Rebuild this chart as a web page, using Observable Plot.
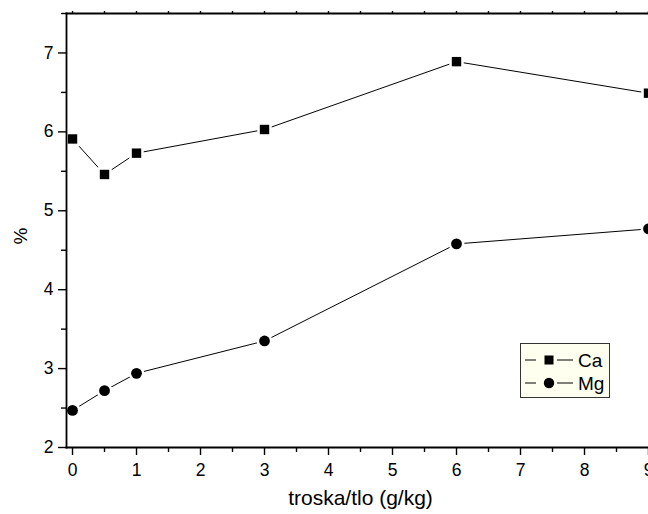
<!DOCTYPE html>
<html>
<head>
<meta charset="utf-8">
<script src="https://cdn.jsdelivr.net/npm/d3@7"></script>
<script src="https://cdn.jsdelivr.net/npm/@observablehq/plot@0.6"></script>
<style>
  html, body { margin: 0; padding: 0; background: #fff; }
  #wrap { position: relative; width: 648px; height: 514px; overflow: hidden; }
  #legend { position: absolute; left: 520px; top: 343px; }
  svg text { font-family: "Liberation Sans", Arial, sans-serif; }
</style>
</head>
<body>
<div id="wrap"></div>
<script>
const xValues = [0, 0.5, 1, 3, 6, 9];
const caValues = [5.91, 5.46, 5.73, 6.03, 6.89, 6.49];
const mgValues = [2.47, 2.72, 2.94, 3.35, 4.58, 4.77];
const seriesNames = ["Ca", "Mg"];
const xMajorTicks = [0, 1, 2, 3, 4, 5, 6, 7, 8, 9];
const xMinorTicks = [0.5, 1.5, 2.5, 3.5, 4.5, 5.5, 6.5, 7.5, 8.5];
const xTopTicks = [0, 0.5, 1, 1.5, 2, 2.5, 3, 3.5, 4, 4.5, 5, 5.5, 6, 6.5, 7, 7.5, 8, 8.5, 9];
const yMajorTicks = [2, 3, 4, 5, 6, 7];
const yMinorTicks = [2.5, 3.5, 4.5, 5.5, 6.5, 7.5];
const xLabel = "troska/tlo (g/kg)";
const yLabel = "%";

const ca = xValues.map((x, i) => ({x, y: caValues[i], s: "Ca"}));
const mg = xValues.map((x, i) => ({x, y: mgValues[i], s: "Mg"}));

const font = "Liberation Sans, Arial, sans-serif";

const chart = Plot.plot({
  width: 648,
  height: 514,
  marginLeft: 66,
  marginRight: 0,
  marginTop: 13,
  marginBottom: 67,
  style: {fontFamily: font, fontSize: "17px", color: "#000", background: "#fff", overflow: "hidden"},
  x: {domain: [-0.094, 9]},
  y: {domain: [2, 7.5]},
  marks: [
    Plot.line(ca, {x: "x", y: "y", stroke: "#000", strokeWidth: 1}),
    Plot.line(mg, {x: "x", y: "y", stroke: "#000", strokeWidth: 1}),
    Plot.dot(ca, {x: "x", y: "y", symbol: "square", r: 5.3, fill: "#000", stroke: "#fff", strokeWidth: 5, paintOrder: "stroke"}),
    Plot.dot(mg, {x: "x", y: "y", symbol: "circle", r: 5.4, fill: "#000", stroke: "#fff", strokeWidth: 5, paintOrder: "stroke"}),
    Plot.frame({anchor: "left", stroke: "#000", strokeWidth: 1.8}),
    Plot.frame({anchor: "bottom", stroke: "#000", strokeWidth: 1.8}),
    Plot.frame({anchor: "top", stroke: "#000", strokeWidth: 1.8}),
    Plot.axisX({ticks: xMajorTicks, tickSize: 8, tickPadding: 8, fontSize: 17.5, tickFormat: d3.format("d"), label: null, strokeWidth: 1.4}),
    Plot.axisX({ticks: xMinorTicks, tickSize: 5, tickFormat: () => "", label: null, strokeWidth: 1.4}),
    Plot.axisX({anchor: "top", ticks: xTopTicks, tickSize: 3, tickFormat: () => "", label: null, strokeWidth: 1.4}),
    Plot.axisY({ticks: yMajorTicks, tickSize: 8, tickPadding: 5, fontSize: 17.5, tickFormat: d3.format("d"), label: null, strokeWidth: 1.4}),
    Plot.axisY({ticks: yMinorTicks, tickSize: 5, tickFormat: () => "", label: null, strokeWidth: 1.4}),
    Plot.text([xLabel], {frameAnchor: "bottom", dx: 3, dy: 57, text: d => d, fontSize: 21, fill: "#000"}),
    Plot.text([yLabel], {frameAnchor: "left", dx: -46, dy: 14, rotate: -90, text: d => d, fontSize: 19, fill: "#000"})
  ]
});
const wrap = document.getElementById("wrap");
wrap.appendChild(chart);

// legend
const lw = 89, lh = 54;
const leg = d3.create("svg").attr("id", "legend").attr("width", lw + 2).attr("height", lh + 2);
leg.append("rect").attr("x", 0.5).attr("y", 0.5).attr("width", lw).attr("height", lh)
  .attr("fill", "#FFFFF0").attr("stroke", "#333").attr("stroke-width", 1);
seriesNames.forEach((name, i) => {
  const cy = 17 + i * 23;
  const g = leg.append("g");
  g.append("line").attr("x1", 5).attr("x2", 16).attr("y1", cy).attr("y2", cy).attr("stroke", "#000");
  g.append("line").attr("x1", 37).attr("x2", 53).attr("y1", cy).attr("y2", cy).attr("stroke", "#000");
  if (i === 0) {
    g.append("rect").attr("x", 24.5).attr("y", cy - 4.5).attr("width", 9).attr("height", 9).attr("fill", "#000");
  } else {
    g.append("circle").attr("cx", 29).attr("cy", cy).attr("r", 5.2).attr("fill", "#000");
  }
  g.append("text").attr("x", 58).attr("y", cy).attr("dy", "0.36em")
    .style("font-size", "19px").style("font-family", font).attr("fill", "#000").text(name);
});
wrap.appendChild(leg.node());
</script>
</body>
</html>
